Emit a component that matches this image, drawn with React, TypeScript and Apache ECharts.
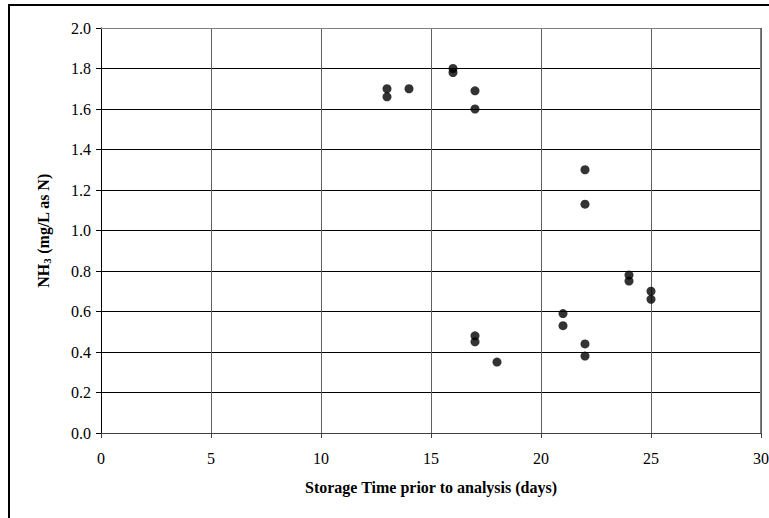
import React, { useEffect, useRef } from "react";
import * as echarts from "echarts";

const days = [13, 13, 14, 16, 16, 17, 17, 17, 17, 18, 21, 21, 22, 22, 22, 22, 24, 24, 25, 25];
const nh3 = [1.70, 1.66, 1.70, 1.80, 1.78, 1.69, 1.60, 0.48, 0.45, 0.35, 0.59, 0.53, 1.30, 1.13, 0.44, 0.38, 0.78, 0.75, 0.70, 0.66];
const xTitle = "Storage Time prior to analysis (days)";
const yTitle = "NH{sub|3} (mg/L as N)";

export default function App() {
  const ref = useRef<HTMLDivElement>(null);
  useEffect(() => {
    if (!ref.current) return;
    const chart = echarts.init(ref.current, null, { renderer: "svg" });
    const font = "Liberation Serif";
    chart.setOption({
      animation: false,
      backgroundColor: "#fff",
      textStyle: { fontFamily: font },
      grid: {
        left: 101,
        right: 8,
        top: 28,
        bottom: 85,
        containLabel: false,
        outerBoundsMode: "none",
        show: false,
      },
      graphic: [
        {
          type: "rect",
          shape: { x: 9, y: 5, width: 900, height: 700 },
          style: { fill: "none", stroke: "#000", lineWidth: 2 },
          silent: true,
        },
        {
          type: "polyline",
          shape: { points: [[101, 28.5], [760.5, 28.5], [760.5, 433]] },
          style: { fill: "none", stroke: "#808080", lineWidth: 1 },
          silent: true,
          z: 1,
        },
      ],
      xAxis: {
        type: "value",
        min: 0,
        max: 30,
        interval: 5,
        name: xTitle,
        nameLocation: "middle",
        nameGap: 46,
        nameTextStyle: { fontFamily: font, fontWeight: "bold", fontSize: 16, color: "#000" },
        axisLine: { show: true, lineStyle: { color: "#404040", width: 1 } },
        axisTick: { show: true, inside: false, length: 5, lineStyle: { color: "#404040" } },
        axisLabel: { fontFamily: font, fontSize: 16, color: "#000", margin: 17 },
        splitLine: { show: true, lineStyle: { color: "#606060", width: 1 } },
      },
      yAxis: {
        type: "value",
        min: 0,
        max: 2,
        interval: 0.2,
        name: yTitle,
        nameLocation: "middle",
        nameGap: 49,
        nameRotate: 90,
        nameTextStyle: {
          fontFamily: font,
          fontWeight: "bold",
          fontSize: 16,
          color: "#000",
          rich: {
            sub: { fontFamily: font, fontWeight: "bold", fontSize: 11, verticalAlign: "bottom", padding: [7, 0, 0, 0], color: "#000" },
          },
        },
        axisLine: { show: true, lineStyle: { color: "#000", width: 1 } },
        axisTick: { show: true, inside: false, length: 5, lineStyle: { color: "#000" } },
        axisLabel: {
          fontFamily: font,
          fontSize: 16,
          color: "#000",
          margin: 10,
          formatter: (v: number) => v.toFixed(1),
        },
        splitLine: { show: true, lineStyle: { color: "#000", width: 1 } },
      },
      series: [
        {
          type: "scatter",
          data: days.map((d, i) => [d, nh3[i]]),
          symbol: "circle",
          symbolSize: 9,
          itemStyle: { color: "#000" },
          z: 5,
        },
      ],
    });
    return () => chart.dispose();
  }, []);
  return (
    <div
      ref={ref}
      style={{ position: "fixed", left: 0, top: 0, width: 769, height: 518 }}
    />
  );
}
